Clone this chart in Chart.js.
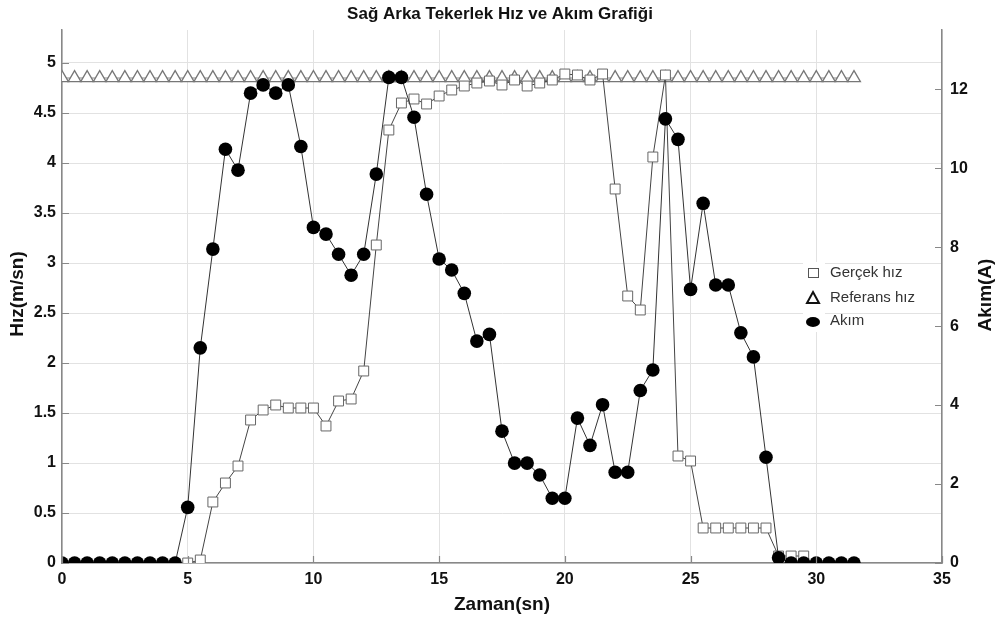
<!DOCTYPE html>
<html>
<head>
<meta charset="utf-8">
<script src="https://cdn.jsdelivr.net/npm/chart.js@4"></script>
<style>
  body { margin: 0; background: #fff; }
  canvas { display: block; }
</style>
</head>
<body>
<canvas id="chart" width="1001" height="623"></canvas>
<script>
// zaman ekseni (sn)
const zaman = [0, 0.5, 1, 1.5, 2, 2.5, 3, 3.5, 4, 4.5, 5, 5.5, 6, 6.5, 7, 7.5, 8, 8.5, 9, 9.5,
  10, 10.5, 11, 11.5, 12, 12.5, 13, 13.5, 14, 14.5, 15, 15.5, 16, 16.5, 17, 17.5, 18, 18.5, 19, 19.5,
  20, 20.5, 21, 21.5, 22, 22.5, 23, 23.5, 24, 24.5, 25, 25.5, 26, 26.5, 27, 27.5, 28, 28.5, 29, 29.5,
  30, 30.5, 31, 31.5];

// Gerçek hız (m/sn)
const gercekHiz = [null, null, null, null, null, null, null, null, null, null,
  0.0, 0.03, 0.61, 0.80, 0.97, 1.43, 1.53, 1.58, 1.55, 1.55,
  1.55, 1.37, 1.62, 1.64, 1.92, 3.18, 4.33, 4.60, 4.64, 4.59,
  4.67, 4.73, 4.77, 4.80, 4.82, 4.78, 4.83, 4.77, 4.80, 4.83,
  4.89, 4.88, 4.83, 4.89, 3.74, 2.67, 2.53, 4.06, 4.88, 1.07,
  1.02, 0.35, 0.35, 0.35, 0.35, 0.35, 0.35, 0.07, 0.07, 0.07,
  null, null, null, null];

// Referans hız (m/sn)
const referansHiz = [4.85, 4.85, 4.85, 4.85, 4.85, 4.85, 4.85, 4.85, 4.85, 4.85,
  4.85, 4.85, 4.85, 4.85, 4.85, 4.85, 4.85, 4.85, 4.85, 4.85,
  4.85, 4.85, 4.85, 4.85, 4.85, 4.85, 4.85, 4.85, 4.85, 4.85,
  4.85, 4.85, 4.85, 4.85, 4.85, 4.85, 4.85, 4.85, 4.85, 4.85,
  4.85, 4.85, 4.85, 4.85, 4.85, 4.85, 4.85, 4.85, 4.85, 4.85,
  4.85, 4.85, 4.85, 4.85, 4.85, 4.85, 4.85, 4.85, 4.85, 4.85,
  4.85, 4.85, 4.85, 4.85];

// Akım (A)
const akim = [0, 0, 0, 0, 0, 0, 0, 0, 0, 0,
  1.41, 5.45, 7.95, 10.48, 9.95, 11.9, 12.11, 11.9, 12.11, 10.55,
  8.5, 8.33, 7.82, 7.29, 7.82, 9.85, 12.3, 12.3, 11.29, 9.34,
  7.70, 7.42, 6.83, 5.62, 5.79, 3.34, 2.53, 2.53, 2.23, 1.64,
  1.64, 3.67, 2.98, 4.01, 2.30, 2.30, 4.37, 4.89, 11.25, 10.73,
  6.93, 9.11, 7.04, 7.04, 5.83, 5.22, 2.68, 0.13, 0, 0,
  0, 0, 0, 0];

const xTicks = [0, 5, 10, 15, 20, 25, 30, 35];
const hizTicks = [0, 0.5, 1, 1.5, 2, 2.5, 3, 3.5, 4, 4.5, 5];
const akimTicks = [0, 2, 4, 6, 8, 10, 12];

const points = (values) => zaman.map((t, i) => ({ x: t, y: values[i] }));

const FONT = "'Liberation Sans', Arial, sans-serif";
const tickFont = { family: FONT, size: 16, weight: "bold" };

// başlıklar, içe dönük tik çizgileri ve lejant
const labelsPlugin = {
  id: "labels",
  afterDraw(chart) {
    const c = chart.ctx;
    const a = chart.chartArea;
    const s = chart.scales;
    c.save();

    // tikler (içeri doğru)
    c.strokeStyle = "#888";
    c.lineWidth = 1.2;
    c.beginPath();
    s.y.ticks.forEach((t) => {
      const py = Math.round(s.y.getPixelForValue(t.value)) + 0.5;
      c.moveTo(a.left, py);
      c.lineTo(a.left + 7, py);
    });
    s.y1.ticks.forEach((t) => {
      const py = Math.round(s.y1.getPixelForValue(t.value)) + 0.5;
      c.moveTo(a.right - 7, py);
      c.lineTo(a.right, py);
    });
    s.x.ticks.forEach((t) => {
      const px = Math.round(s.x.getPixelForValue(t.value)) + 0.5;
      c.moveTo(px, a.bottom);
      c.lineTo(px, a.bottom - 7);
    });
    c.stroke();

    c.fillStyle = "#111";
    c.textAlign = "center";
    c.textBaseline = "middle";
    c.font = "bold 17px " + FONT;
    c.fillText("Sağ Arka Tekerlek Hız ve Akım Grafiği", 500, 14);
    c.font = "bold 19px " + FONT;
    c.fillText("Zaman(sn)", (a.left + a.right) / 2, 605);
    c.save();
    c.translate(18, 294);
    c.rotate(-Math.PI / 2);
    c.fillText("Hız(m/sn)", 0, 0);
    c.restore();
    c.save();
    c.translate(986, 295);
    c.rotate(-Math.PI / 2);
    c.fillText("Akım(A)", 0, 0);
    c.restore();

    // lejant
    c.fillStyle = "#fff";
    c.fillRect(803, 262, 22, 70);
    c.lineWidth = 1;
    c.strokeStyle = "#555";
    c.strokeRect(808.5, 268.5, 10, 9);
    c.lineWidth = 2;
    c.strokeStyle = "#111";
    c.beginPath();
    c.moveTo(813, 292);
    c.lineTo(819, 303);
    c.lineTo(807, 303);
    c.closePath();
    c.stroke();
    c.fillStyle = "#000";
    c.beginPath();
    c.ellipse(813, 322, 7, 5, 0, 0, Math.PI * 2);
    c.fill();
    c.fillStyle = "#333";
    c.textAlign = "left";
    c.font = "15px " + FONT;
    c.fillText("Gerçek hız", 830, 273);
    c.fillText("Referans hız", 830, 298);
    c.fillText("Akım", 830, 321);
    c.restore();
  },
};

new Chart(document.getElementById("chart"), {
  type: "line",
  data: {
    datasets: [
      {
        label: "Gerçek hız",
        data: points(gercekHiz),
        yAxisID: "y",
        order: 1,
        borderColor: "#444",
        borderWidth: 1,
        pointStyle: "rect",
        pointRadius: 7,
        pointBackgroundColor: "#fff",
        pointBorderColor: "#666",
        pointBorderWidth: 1,
        tension: 0,
      },
      {
        label: "Referans hız",
        data: points(referansHiz),
        yAxisID: "y",
        order: 2,
        borderColor: "#888",
        borderWidth: 1,
        pointStyle: "triangle",
        pointRadius: 7.4,
        pointBackgroundColor: "#fff",
        pointBorderColor: "#777",
        pointBorderWidth: 1.3,
        tension: 0,
      },
      {
        label: "Akım",
        data: points(akim),
        yAxisID: "y1",
        order: 0,
        borderColor: "#333",
        borderWidth: 1,
        pointStyle: "circle",
        pointRadius: 6.8,
        pointBackgroundColor: "#000",
        pointBorderColor: "#000",
        pointBorderWidth: 0,
        tension: 0,
      },
    ],
  },
  options: {
    responsive: false,
    animation: false,
    layout: { padding: { top: 30 } },
    plugins: {
      legend: { display: false },
      title: { display: false },
      tooltip: { enabled: false },
    },
    scales: {
      x: {
        type: "linear",
        min: 0,
        max: 35,
        afterBuildTicks: (s) => { s.ticks = xTicks.map((v) => ({ value: v })); },
        afterFit: (s) => { s.height = 60; },
        ticks: { font: tickFont, color: "#111", padding: 7, maxRotation: 0, callback: (v) => String(v) },
        grid: { color: "#e2e2e2", drawTicks: false },
        border: { color: "#888", width: 1.5 },
      },
      y: {
        position: "left",
        min: 0,
        max: 5.33,
        afterBuildTicks: (s) => { s.ticks = hizTicks.map((v) => ({ value: v })); },
        afterFit: (s) => { s.width = 62; },
        ticks: { font: tickFont, color: "#111", padding: 6, callback: (v) => String(v) },
        grid: { color: "#e2e2e2", drawTicks: false },
        border: { color: "#888", width: 1.5 },
      },
      y1: {
        position: "right",
        min: 0,
        max: 13.5,
        afterBuildTicks: (s) => { s.ticks = akimTicks.map((v) => ({ value: v })); },
        afterFit: (s) => { s.width = 59; },
        ticks: { font: tickFont, color: "#111", padding: 8, callback: (v) => String(v) },
        grid: { drawOnChartArea: false, drawTicks: false },
        border: { color: "#888", width: 1.5 },
      },
    },
  },
  plugins: [labelsPlugin],
});
</script>
</body>
</html>
